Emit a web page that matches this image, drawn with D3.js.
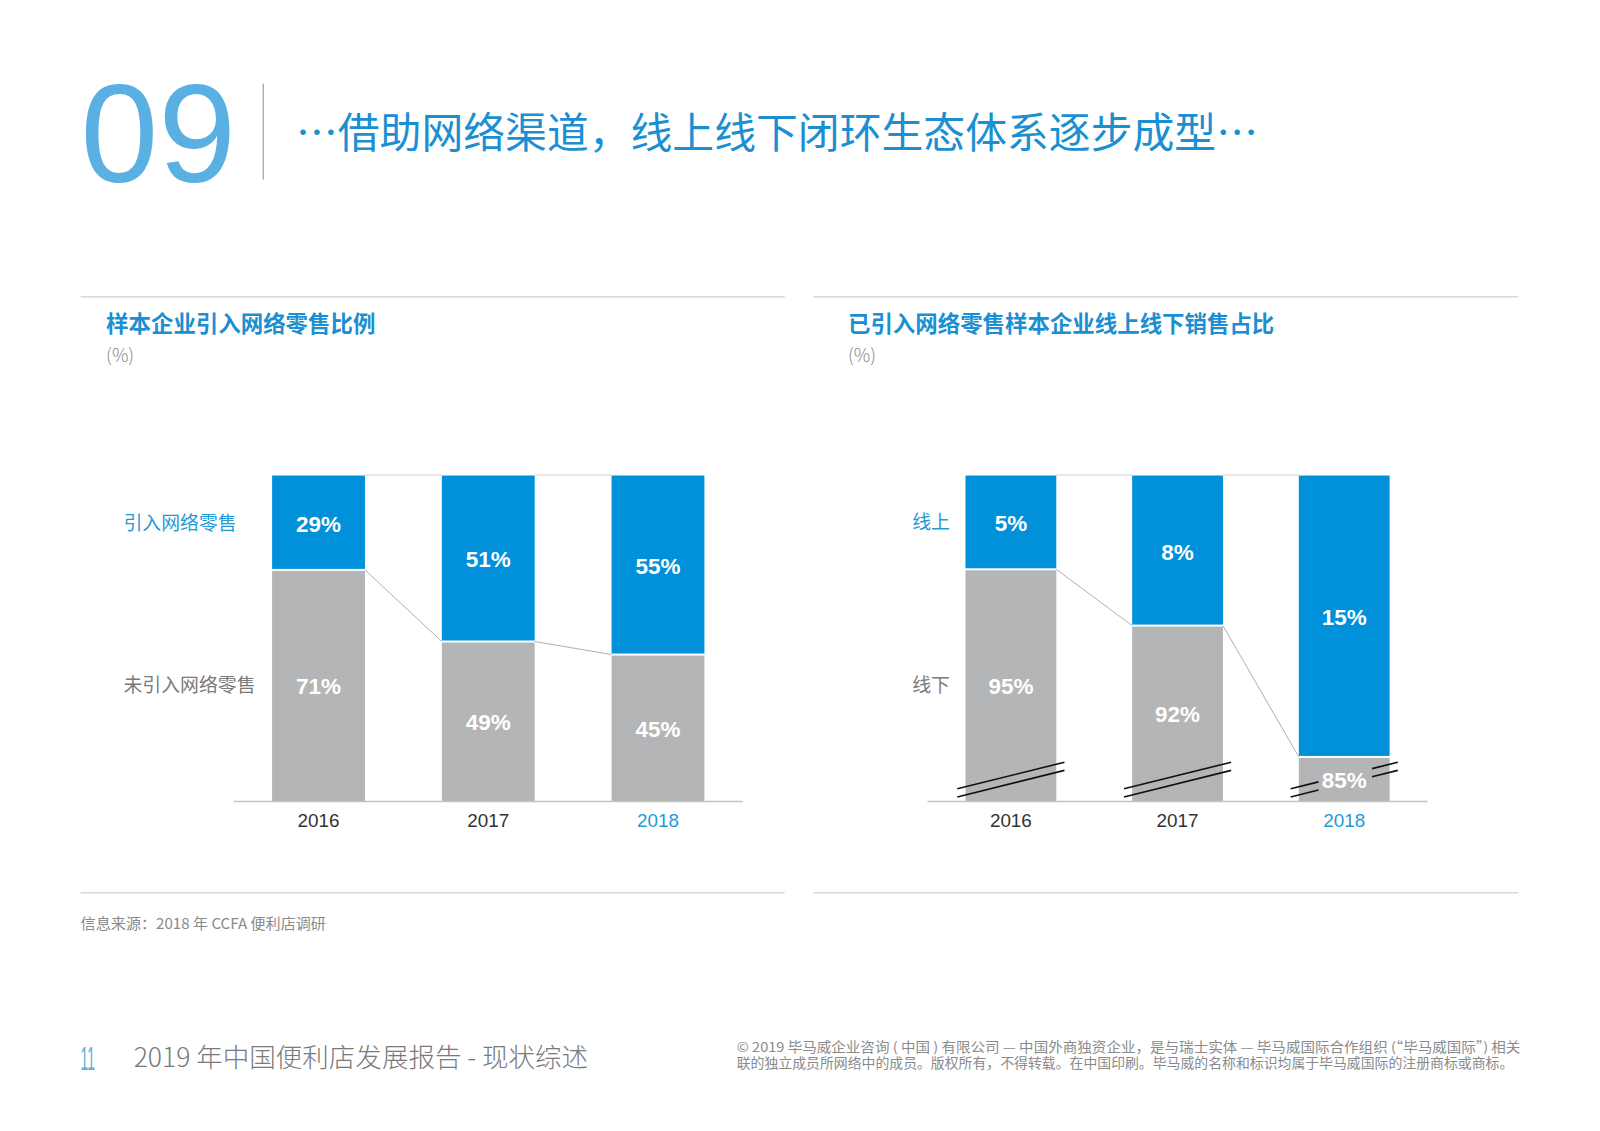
<!DOCTYPE html>
<html>
<head>
<meta charset="utf-8">
<script src="https://cdn.jsdelivr.net/npm/d3@7"></script>
<style>
  html, body { margin: 0; padding: 0; background: #fff; }
  svg { display: block; }
  .cjk { font-family: "Noto Sans CJK SC", "Noto Sans", sans-serif; }
  .num { font-family: "Liberation Sans", Arial, sans-serif; }
</style>
</head>
<body>
<div id="chart"></div>
<script>
// data
const years = ['2016', '2017', '2018']
const netRetail = [29, 51, 55] // 引入网络零售
const noNetRetail = [71, 49, 45] // 未引入网络零售
const onlineShare = [5, 8, 15] // 线上
const offlineShare = [95, 92, 85] // 线下

const BLUE = '#0091da'
const GREY = '#b4b5b6'
const TEXT_BLUE = '#1b8fd1'

const W = 1600
const H = 1131
// layout was measured on a 1568px wide copy of the page
const S = W / 1568

const root = d3.select('#chart').append('svg')
  .attr('width', W)
  .attr('height', H)

const svg = root.append('g')
  .attr('transform', 'scale(' + S + ')')

// header
svg.append('text')
  .attr('class', 'num')
  .attr('x', 79).attr('y', 178)
  .attr('font-size', 137)
  .attr('fill', '#5ab0e3')
  .text('09')

svg.append('line')
  .attr('x1', 258).attr('x2', 258)
  .attr('y1', 82).attr('y2', 176)
  .attr('stroke', '#b0b0b0').attr('stroke-width', 1.5)

svg.append('text')
  .attr('class', 'cjk')
  .attr('x', 290).attr('y', 145)
  .attr('font-size', 41)
  .attr('fill', TEXT_BLUE)
  .text('…借助网络渠道，线上线下闭环生态体系逐步成型…')

function drawPanel (opts) {
  const g = svg.append('g')
  const top = 466
  const base = 785
  const barW = opts.barW

  // rules
  ;[291, 875].forEach(y => {
    g.append('line')
      .attr('x1', opts.ruleX[0]).attr('x2', opts.ruleX[1])
      .attr('y1', y).attr('y2', y)
      .attr('stroke', '#cfcfcf').attr('stroke-width', 1.2)
  })

  g.append('text')
    .attr('class', 'cjk')
    .attr('x', opts.titleX).attr('y', 325)
    .attr('font-size', 22).attr('font-weight', 700)
    .attr('fill', TEXT_BLUE)
    .text(opts.title)

  g.append('text')
    .attr('class', 'cjk')
    .attr('x', opts.titleX).attr('y', 355)
    .attr('font-size', 18).attr('font-weight', 300)
    .attr('fill', '#8a8a8a')
    .text('(%)')

  const x = d3.scalePoint()
    .domain(years)
    .range(opts.axisX)
    .padding(0.5)

  const y = opts.y

  const rows = years.map((yr, i) => ({
    year: yr,
    upper: opts.upper[i],
    lower: opts.lower[i],
    left: x(yr) - barW / 2
  }))

  // connector lines (top and along the split)
  for (let i = 0; i < rows.length - 1; i++) {
    const a = rows[i]
    const b = rows[i + 1]
    g.append('line')
      .attr('x1', a.left + barW).attr('x2', b.left)
      .attr('y1', top - 0.5).attr('y2', top - 0.5)
      .attr('stroke', '#d0d0d0').attr('stroke-width', 1.2)
    g.append('line')
      .attr('x1', a.left + barW).attr('x2', b.left)
      .attr('y1', y(a.upper)).attr('y2', y(b.upper))
      .attr('stroke', '#a8a8a8').attr('stroke-width', 0.9)
  }

  const bars = g.selectAll('g.bar')
    .data(rows)
    .enter().append('g')
    .attr('class', 'bar')

  bars.append('rect')
    .attr('x', d => d.left)
    .attr('y', top)
    .attr('width', barW)
    .attr('height', d => y(d.upper) - top - 1)
    .attr('fill', BLUE)

  bars.append('rect')
    .attr('x', d => d.left)
    .attr('y', d => y(d.upper) + 1)
    .attr('width', barW)
    .attr('height', d => base - y(d.upper) - 1)
    .attr('fill', GREY)

  bars.append('text')
    .attr('class', 'num')
    .attr('x', d => x(d.year))
    .attr('y', d => (top + y(d.upper)) / 2)
    .attr('dy', '0.4em')
    .attr('text-anchor', 'middle')
    .attr('font-size', 22).attr('font-weight', 700)
    .attr('fill', '#fff')
    .text(d => d.upper + '%')

  bars.append('text')
    .attr('class', 'num')
    .attr('x', d => x(d.year))
    .attr('y', d => (y(d.upper) + base) / 2)
    .attr('dy', '0.4em')
    .attr('text-anchor', 'middle')
    .attr('font-size', 22).attr('font-weight', 700)
    .attr('fill', '#fff')
    .text(d => d.lower + '%')

  // axis break marks (broken scale)
  if (opts.breaks) {
    rows.forEach((d, i) => {
      const x1 = d.left - 8
      const x2 = d.left + barW + 8
      const segs = i === rows.length - 1 ? [[0, 0.26], [0.76, 1]] : [[0, 1]]
      ;[[12, 38], [4, 30]].forEach(([l, r]) => {
        segs.forEach(([t0, t1]) => {
          g.append('line')
            .attr('x1', x1 + (x2 - x1) * t0)
            .attr('x2', x1 + (x2 - x1) * t1)
            .attr('y1', base - (l + (r - l) * t0))
            .attr('y2', base - (l + (r - l) * t1))
            .attr('stroke', '#111').attr('stroke-width', 1.6)
        })
      })
    })
  }

  // baseline
  g.append('line')
    .attr('x1', opts.axisX[0]).attr('x2', opts.axisX[1])
    .attr('y1', base + 0.5).attr('y2', base + 0.5)
    .attr('stroke', '#c4c4c4').attr('stroke-width', 1.6)

  g.selectAll('text.year')
    .data(years)
    .enter().append('text')
    .attr('class', 'num year')
    .attr('x', d => x(d))
    .attr('y', 810)
    .attr('text-anchor', 'middle')
    .attr('font-size', 18.5)
    .attr('fill', d => d === '2018' ? '#1f9ad6' : '#333')
    .text(d => d)

  // series labels
  const r0 = rows[0]
  g.append('text')
    .attr('class', 'cjk')
    .attr('x', opts.labelX)
    .attr('y', (top + y(r0.upper)) / 2)
    .attr('dy', '0.36em')
    .attr('font-size', 18.5)
    .attr('fill', '#1f9ad6')
    .text(opts.upperName)
  g.append('text')
    .attr('class', 'cjk')
    .attr('x', opts.labelX)
    .attr('y', (y(r0.upper) + base) / 2)
    .attr('dy', '0.36em')
    .attr('font-size', 18.5)
    .attr('fill', '#7a7a7a')
    .text(opts.lowerName)
}

drawPanel({
  ruleX: [79, 769],
  titleX: 104,
  title: '样本企业引入网络零售比例',
  axisX: [229, 728],
  barW: 91,
  y: d3.scaleLinear().domain([0, 100]).range([466, 785]),
  upper: netRetail,
  lower: noNetRetail,
  labelX: 121,
  upperName: '引入网络零售',
  lowerName: '未引入网络零售',
  breaks: false
})

drawPanel({
  ruleX: [797, 1488],
  titleX: 831,
  title: '已引入网络零售样本企业线上线下销售占比',
  axisX: [909, 1399],
  barW: 89,
  // broken scale: only the online share is drawn to scale
  y: d3.scaleLinear().domain([0, 17.35]).range([466, 785]),
  upper: onlineShare,
  lower: offlineShare,
  labelX: 894,
  upperName: '线上',
  lowerName: '线下',
  breaks: true
})

svg.append('text')
  .attr('class', 'cjk')
  .attr('x', 79).attr('y', 910)
  .attr('font-size', 14.8)
  .attr('fill', '#8a8a8a')
  .text('信息来源：2018 年 CCFA 便利店调研')

// footer
svg.append('text')
  .attr('font-family', '"Liberation Sans Narrow", "Liberation Sans", sans-serif')
  .attr('x', 79).attr('y', 1049)
  .attr('font-size', 32).attr('font-weight', 300)
  .attr('textLength', 14).attr('lengthAdjust', 'spacingAndGlyphs')
  .attr('fill', '#5aaedc')
  .text('11')

svg.append('text')
  .attr('class', 'cjk')
  .attr('x', 131).attr('y', 1046)
  .attr('font-size', 26).attr('font-weight', 300)
  .attr('fill', '#7a7a7a')
  .text('2019 年中国便利店发展报告 - 现状综述')

svg.append('text')
  .attr('class', 'cjk')
  .attr('x', 722).attr('y', 1031)
  .attr('font-size', 13)
  .attr('textLength', 768).attr('lengthAdjust', 'spacingAndGlyphs')
  .attr('fill', '#8a8a8a')
  .text('© 2019 毕马威企业咨询 ( 中国 ) 有限公司 — 中国外商独资企业，是与瑞士实体 — 毕马威国际合作组织 (“毕马威国际”) 相关')

svg.append('text')
  .attr('class', 'cjk')
  .attr('x', 722).attr('y', 1047)
  .attr('font-size', 13)
  .attr('textLength', 761).attr('lengthAdjust', 'spacingAndGlyphs')
  .attr('fill', '#8a8a8a')
  .text('联的独立成员所网络中的成员。版权所有，不得转载。在中国印刷。毕马威的名称和标识均属于毕马威国际的注册商标或商标。')
</script>
</body>
</html>
